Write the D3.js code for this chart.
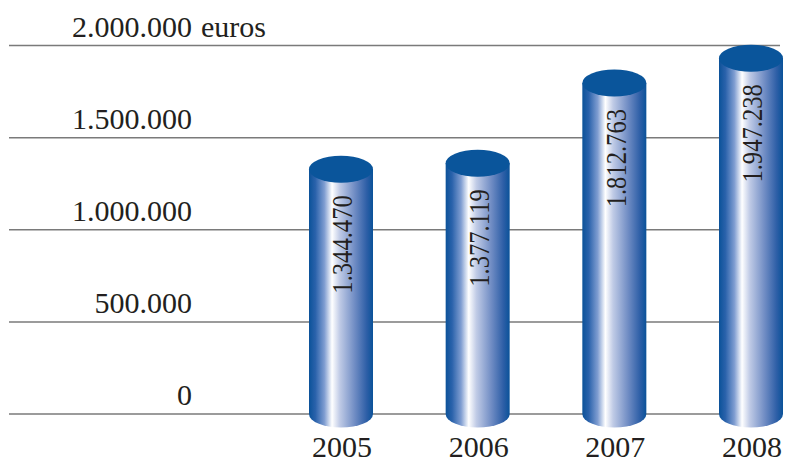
<!DOCTYPE html>
<html>
<head>
<meta charset="utf-8">
<script src="https://cdn.jsdelivr.net/npm/d3@7"></script>
<style>
  html, body { margin: 0; padding: 0; background: #fff; }
  svg { display: block; }
  text { font-family: "Liberation Serif", "Times New Roman", serif; fill: #231f20; }
</style>
</head>
<body>
<svg id="chart" width="785" height="463"></svg>
<script>
// ---- data ----
const years = ["2005", "2006", "2007", "2008"];
const values = [1344470, 1377119, 1812763, 1947238];
const valueLabels = ["1.344.470", "1.377.119", "1.812.763", "1.947.238"];
const tickValues = [0, 500000, 1000000, 1500000, 2000000];
const tickLabels = ["0", "500.000", "1.000.000", "1.500.000", "2.000.000"];
const unitLabel = "euros";

// ---- layout ----
const svg = d3.select("#chart");

const y = d3.scaleLinear().domain([0, 2000000]).range([414, 45.5]);
const x = d3.scalePoint().domain(years).range([341, 751]);
const barW = 64, ry = 13.5, topShift = 3;

// gradient
const defs = svg.append("defs");
const grad = defs.append("linearGradient").attr("id", "cyl")
  .attr("x1", "0%").attr("x2", "100%").attr("y1", "0%").attr("y2", "0%");
[
  [0, "#0b5299"], [0.1, "#2a62ab"], [0.24, "#7f9dd1"], [0.36, "#ffffff"],
  [0.48, "#c0cbe6"], [0.72, "#6e8bc3"], [0.9, "#2e5fa7"], [1, "#0a5299"]
].forEach(([o, c]) => grad.append("stop").attr("offset", o).attr("stop-color", c));

// gridlines
svg.append("g").selectAll("line").data(tickValues).join("line")
  .attr("x1", 9).attr("x2", 780)
  .attr("y1", d => y(d)).attr("y2", d => y(d))
  .attr("stroke", "#7a7a7a").attr("stroke-width", 1.5);

// tick labels
svg.append("g").selectAll("text").data(tickValues).join("text")
  .attr("x", 192).attr("y", d => y(d) - 9)
  .attr("text-anchor", "end")
  .attr("font-size", 30)
  .text((d, i) => tickLabels[i]);

svg.append("text")
  .attr("x", 201).attr("y", y(2000000) - 9)
  .attr("font-size", 30)
  .text(unitLabel);

// cylinders
const bars = svg.append("g").selectAll("g").data(values).join("g");

bars.append("path")
  .attr("fill", "url(#cyl)")
  .attr("d", (d, i) => {
    const cx = x(years[i]), l = cx - barW / 2, r = cx + barW / 2;
    const top = y(d) + topShift, bot = y(0);
    return `M${l},${top} L${l},${bot} A${barW / 2},${ry} 0 0 0 ${r},${bot} L${r},${top} Z`;
  });

bars.append("ellipse")
  .attr("cx", (d, i) => x(years[i]))
  .attr("cy", d => y(d) + topShift)
  .attr("rx", barW / 2).attr("ry", ry)
  .attr("fill", "#0a559b");

// value labels (rotated)
bars.append("g")
  .attr("transform", (d, i) => `translate(${x(years[i]) + 1},${y(d) + topShift + 26}) rotate(-90)`)
  .append("text")
  .attr("transform", "scale(0.82,1)")
  .attr("text-anchor", "end")
  .attr("dy", "0.34em")
  .attr("font-size", 30)
  .text((d, i) => valueLabels[i]);

// year labels
svg.append("g").selectAll("text").data(years).join("text")
  .attr("x", d => x(d) + 1).attr("y", 457)
  .attr("text-anchor", "middle")
  .attr("font-size", 30)
  .text(d => d);
</script>
</body>
</html>
